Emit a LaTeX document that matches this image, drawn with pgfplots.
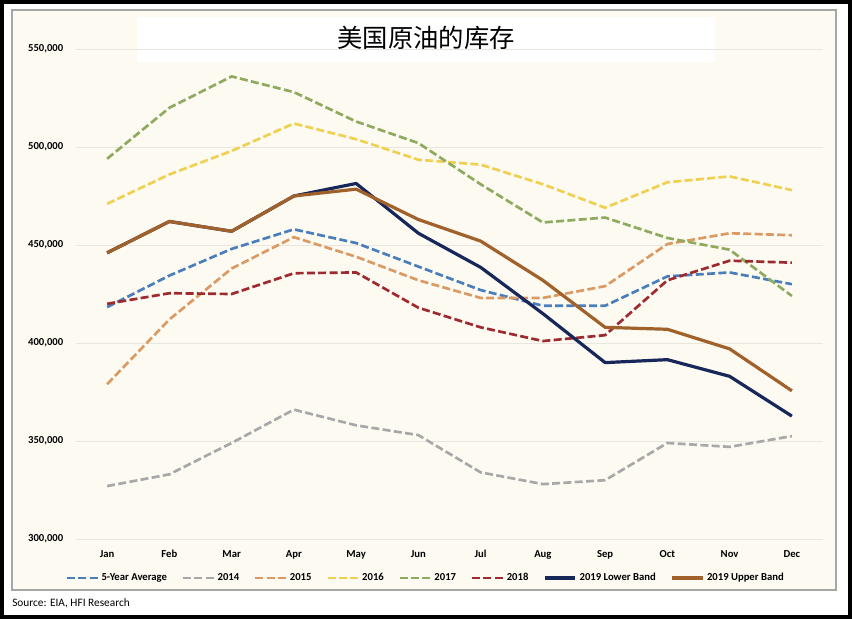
\documentclass[border=0pt]{standalone}
\usepackage{pgfplots}
\pgfplotsset{compat=1.18}
\usepackage{pgfplotstable}
\usepackage{fontspec}
\setmainfont{Carlito}
\newfontfamily\cjk{Noto Sans CJK SC}
\definecolor{cream}{HTML}{FCFAF1}
\definecolor{panelborder}{HTML}{A6A6A6}
\definecolor{gridc}{HTML}{E8E6DE}
\definecolor{cavg}{HTML}{4A7EBB}
\definecolor{c14}{HTML}{A8A8A8}
\definecolor{c15}{HTML}{DB9A64}
\definecolor{c16}{HTML}{F0D050}
\definecolor{c17}{HTML}{8DAA5E}
\definecolor{c18}{HTML}{9E2A2F}
\definecolor{clow}{HTML}{17275A}
\definecolor{cup}{HTML}{A0612B}
\pgfplotstableread{
x avg y14 y15 y16 y17 y18 low up
0 418300 327000 379000 471000 494000 420000 446000 446000
1 434400 333000 412000 486000 520000 425400 462000 462000
2 448000 349000 438000 498000 536000 425000 457000 457000
3 458000 366000 454000 512000 528000 435600 475000 475000
4 451000 358000 444000 504000 513000 436000 481400 478500
5 439000 353000 432000 493500 502000 418000 456000 463000
6 427000 334000 423000 491000 481000 408000 438600 452000
7 419000 328000 423000 481000 461500 401000 415000 432000
8 419000 330000 429000 469000 464000 404000 390000 408000
9 434000 349000 450500 482000 453600 432000 391500 407000
10 436000 347000 456000 485000 447600 442000 383000 397000
11 430000 352500 455000 478000 424000 441000 362700 375600
}\data
\begin{document}
\begin{tikzpicture}
\useasboundingbox (0pt,0pt) rectangle (639pt,464.25pt);
\fill[white] (0pt,0pt) rectangle (639pt,464.25pt);
\draw[black, line width=3pt] (1.5pt,1.5pt) rectangle (637.5pt,462.75pt);
\filldraw[fill=cream, draw=panelborder, line width=0.8pt] (9pt,21.75pt) rectangle (627pt,456.75pt);
\fill[white] (102.75pt,417.75pt) rectangle (536.25pt,451.5pt);
\node at (319.5pt,435.5pt) {\cjk\fontsize{19}{21}\selectfont 美国原油的库存};
\node[anchor=west, inner sep=0pt] at (9pt,12pt) {\fontsize{8.5}{10}\selectfont Source: EIA, HFI Research};
\begin{axis}[
  at={(57pt,60pt)}, anchor=south west,
  scale only axis, width=560.25pt, height=367.5pt,
  xmin=-0.5, xmax=11.5, ymin=300000, ymax=550000,
  ytick={300000,350000,400000,450000,500000,550000},
  yticklabels={{300,000},{350,000},{400,000},{450,000},{500,000},{550,000}},
  xtick={0,...,11},
  xticklabels={Jan,Feb,Mar,Apr,May,Jun,Jul,Aug,Sep,Oct,Nov,Dec},
  scaled y ticks=false,
  axis line style={draw=none},
  major tick length=0pt,
  ymajorgrids, grid style={draw=gridc, line width=0.7pt},
  yticklabel style={font=\bfseries\fontsize{8}{9}\selectfont, xshift=-6pt},
  xticklabel style={font=\bfseries\fontsize{8}{9}\selectfont, yshift=-5pt},
  legend columns=8,
  legend style={at={(0.4685,-0.0796)}, anchor=center, draw=none, fill=none,
    font=\bfseries\fontsize{8}{9}\selectfont, inner sep=0pt,
    /tikz/every even column/.append style={column sep=9pt}},
  legend image code/.code={\draw[#1] (0pt,0pt) -- (23pt,0pt);},
  every axis plot/.append style={line join=round},
]
\addplot[cavg, line width=2pt, dash pattern=on 6pt off 2.5pt] table[x=x,y=avg]{\data};
\addlegendentry{5-Year Average}
\addplot[c14, line width=2pt, dash pattern=on 6pt off 2.5pt] table[x=x,y=y14]{\data};
\addlegendentry{2014}
\addplot[c15, line width=2pt, dash pattern=on 6pt off 2.5pt] table[x=x,y=y15]{\data};
\addlegendentry{2015}
\addplot[c16, line width=2pt, dash pattern=on 6pt off 2.5pt] table[x=x,y=y16]{\data};
\addlegendentry{2016}
\addplot[c17, line width=2pt, dash pattern=on 6pt off 2.5pt] table[x=x,y=y17]{\data};
\addlegendentry{2017}
\addplot[c18, line width=2pt, dash pattern=on 6pt off 2.5pt] table[x=x,y=y18]{\data};
\addlegendentry{2018}
\addplot[clow, line width=2.4pt] table[x=x,y=low]{\data};
\addlegendentry{2019 Lower Band}
\addplot[cup, line width=2.4pt] table[x=x,y=up]{\data};
\addlegendentry{2019 Upper Band}
\end{axis}
\end{tikzpicture}
\end{document}
